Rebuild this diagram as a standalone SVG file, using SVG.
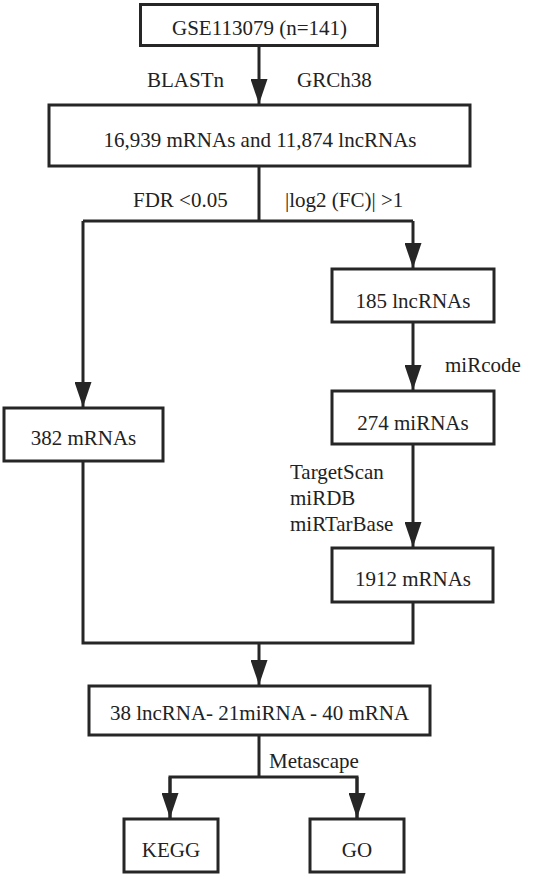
<svg xmlns="http://www.w3.org/2000/svg" width="533" height="879" viewBox="0 0 533 879">
<style>
.box{fill:#fff;stroke:#262626;stroke-width:3}
.c{fill:none;stroke:#262626;stroke-width:3}
text{font-size:21px;fill:#222}
.m{text-anchor:middle}
</style>
<defs>
<marker id="ah" markerUnits="userSpaceOnUse" viewBox="0 0 25 17" markerWidth="25" markerHeight="17" refX="25" refY="8.5" orient="auto">
<path d="M0,0 L25,8.5 L0,17 z" fill="#262626"/>
</marker>
</defs>
<rect width="533" height="879" fill="#fff"/>
<g id="connectors">
<line class="c" x1="259" y1="47" x2="259" y2="104" marker-end="url(#ah)"/>
<polyline class="c" points="259,167 259,221"/>
<polyline class="c" points="83,221 413,221"/>
<line class="c" x1="83" y1="221" x2="83" y2="407" marker-end="url(#ah)"/>
<line class="c" x1="413" y1="221" x2="413" y2="268" marker-end="url(#ah)"/>
<line class="c" x1="413" y1="323" x2="413" y2="390" marker-end="url(#ah)"/>
<line class="c" x1="413" y1="445" x2="413" y2="547" marker-end="url(#ah)"/>
<polyline class="c" points="83,462 83,643 413,643 413,603"/>
<line class="c" x1="259" y1="643" x2="259" y2="685" marker-end="url(#ah)"/>
<polyline class="c" points="259,736 259,777"/>
<polyline class="c" points="170,818 170,777 357,777 357,818"/>
<line class="c" x1="170" y1="777" x2="170" y2="818" marker-end="url(#ah)"/>
<line class="c" x1="357" y1="777" x2="357" y2="818" marker-end="url(#ah)"/>
</g>
<g font-family="'Liberation Serif', 'DejaVu Serif', serif">
<g id="labels">
<text x="147" y="87">BLASTn</text>
<text x="297" y="87">GRCh38</text>
<text x="133" y="207">FDR &lt;0.05</text>
<text x="285" y="207">|log2 (FC)| &gt;1</text>
<text x="445" y="372">miRcode</text>
<text x="290" y="479">TargetScan</text>
<text x="290" y="505">miRDB</text>
<text x="290" y="531">miRTarBase</text>
<text x="269" y="768">Metascape</text>
</g>
<g id="n1"><rect class="box" x="140.5" y="4.5" width="237" height="41"/><text class="m" x="259.5" y="35">GSE113079 (n=141)</text></g>
<g id="n2"><rect class="box" x="49" y="105" width="421" height="61"/><text class="m" x="260" y="147">16,939 mRNAs and 11,874 lncRNAs</text></g>
<g id="n3"><rect class="box" x="332" y="269" width="162" height="53"/><text class="m" x="413" y="308">185 lncRNAs</text></g>
<g id="n4"><rect class="box" x="332" y="391" width="162" height="53"/><text class="m" x="413" y="430">274 miRNAs</text></g>
<g id="n5"><rect class="box" x="4" y="408" width="159" height="53"/><text class="m" x="83.5" y="445">382 mRNAs</text></g>
<g id="n6"><rect class="box" x="332" y="548" width="161" height="54"/><text class="m" x="413" y="586">1912 mRNAs</text></g>
<g id="n7"><rect class="box" x="89" y="686" width="341" height="49"/><text class="m" x="259.5" y="720">38 lncRNA- 21miRNA - 40 mRNA</text></g>
<g id="n8"><rect class="box" x="124" y="819" width="94" height="53"/><text class="m" x="171" y="857">KEGG</text></g>
<g id="n9"><rect class="box" x="310" y="819" width="94" height="53"/><text class="m" x="357" y="857">GO</text></g>
</g>
</svg>
